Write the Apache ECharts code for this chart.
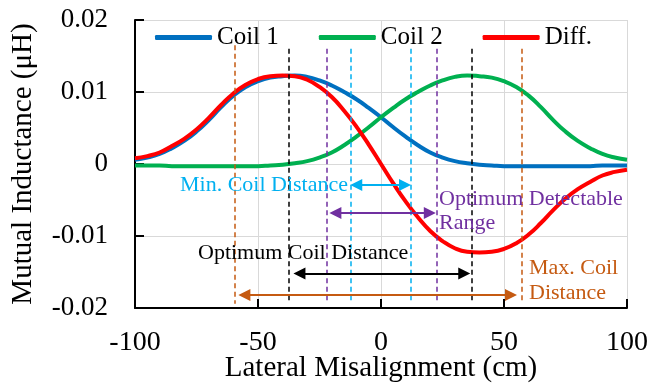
<!DOCTYPE html>
<html><head><meta charset="utf-8">
<script src="https://cdn.jsdelivr.net/npm/echarts/dist/echarts.min.js"></script>
<style>html,body{margin:0;padding:0;background:#fff}#c{width:650px;height:383px}</style>
</head><body><div id="c"></div>
<script>
// ---- data ----
const xs = [-100,-95,-90,-85,-80,-75,-70,-65,-60,-55,-50,-45,-40,-35,-30,-25,-20,-15,-10,-5,0,5,10,15,20,25,30,35,40,45,50,55,60,65,70,75,80,85,90,95,100];
const coil1 = [0.0006,0.0009,0.0014,0.0022,0.0032,0.0045,0.0061,0.0079,0.0095,0.0107,0.0115,0.0120,0.0122,0.0123,0.0121,0.0116,0.0109,0.0100,0.0090,0.0078,0.0065,0.0051,0.0038,0.0026,0.0016,0.0009,0.0004,0.0001,-0.0001,-0.0002,-0.0003,-0.0003,-0.0003,-0.0003,-0.0003,-0.0003,-0.0003,-0.0003,-0.0002,-0.0002,-0.0002];
const coil2 = [-0.0002,-0.0002,-0.0002,-0.0003,-0.0003,-0.0003,-0.0003,-0.0003,-0.0003,-0.0003,-0.0003,-0.0002,-0.0001,0.0001,0.0004,0.0009,0.0016,0.0026,0.0038,0.0051,0.0065,0.0078,0.0090,0.0100,0.0109,0.0116,0.0121,0.0123,0.0122,0.0120,0.0115,0.0107,0.0095,0.0079,0.0061,0.0045,0.0032,0.0022,0.0014,0.0009,0.0006];
const diff = [0.0008,0.0011,0.0016,0.0025,0.0035,0.0048,0.0064,0.0082,0.0098,0.0110,0.0118,0.0122,0.0123,0.0122,0.0117,0.0107,0.0093,0.0074,0.0052,0.0027,0,-0.0027,-0.0052,-0.0074,-0.0093,-0.0107,-0.0117,-0.0122,-0.0123,-0.0122,-0.0118,-0.0110,-0.0098,-0.0082,-0.0064,-0.0048,-0.0035,-0.0025,-0.0016,-0.0011,-0.0008];
const seriesNames = ['Coil 1','Coil 2','Diff.'];
const xTicks = [-100, 100, 50];   // min, max, interval
const yTicks = [-0.02, 0.02, 0.01];

// annotation guides: x positions of dashed lines [left, right]
const minDistX = [-12.5, 12.2];
const detectX = [-22.0, 22.8];
const optDistX = [-37.6, 36.7];
const maxDistX = [-59.6, 57.3];
// arrows: [tipLeft, tipRight, y]
const minDistArrow = [-12.5, 12.2, -0.0029];
const detectArrow = [-21.0, 22.3, -0.0068];
const optDistArrow = [-35.6, 36.3, -0.0152];
const maxDistArrow = [-58.0, 55.3, -0.0182];
const guideTop = 0.0160, guideTopOrangeL = 0.0165, guideBottom = -0.0194;

const FONT = '"Liberation Serif","Times New Roman",serif';
const C_CYAN = '#00B0F0', C_PURPLE = '#7030A0', C_BLACK = '#000000', C_ORANGE = '#C55A11';

function guide(x, top, color) {
  return [{coord:[x, top], lineStyle:{color:color, type:[5,3.5], width:1.5}}, {coord:[x, guideBottom]}];
}
const HEAD = 2.45; // half arrow head length in x units
function arrow(a, color) {
  return [{coord:[a[0] + HEAD, a[2]], lineStyle:{color:color, type:'solid', width:2}, itemStyle:{color:color}},
          {coord:[a[1] - HEAD, a[2]]}];
}

const chart = echarts.init(document.getElementById('c'), null, {renderer:'canvas'});
const mk = (arr) => xs.map((x,i) => [x, arr[i]]);

chart.setOption({
  animation: false,
  backgroundColor: '#fff',
  grid: {left:135, right:23, top:20, bottom:75, containLabel:false, outerBoundsMode:'none'},
  legend: {
    data: seriesNames, left:155, top:25, padding:0, icon:'roundRect', itemWidth:57, itemHeight:5, itemGap:40,
    textStyle:{fontSize:25, fontFamily:FONT, color:'#000'}
  },
  xAxis: {
    type:'value', min:xTicks[0], max:xTicks[1], interval:xTicks[2],
    name:'Lateral Misalignment (cm)', nameLocation:'middle', nameGap:46, nameMoveOverlap:false,
    nameTextStyle:{fontSize:29, fontFamily:FONT, color:'#000'},
    axisLine:{onZero:false, lineStyle:{color:'#000', width:2}},
    axisTick:{inside:true, length:9, lineStyle:{color:'#000', width:2}},
    splitLine:{show:true, lineStyle:{color:'#d9d9d9', width:1}},
    axisLabel:{fontSize:28, fontFamily:FONT, color:'#000', margin:21}
  },
  yAxis: {
    type:'value', min:yTicks[0], max:yTicks[1], interval:yTicks[2],
    name:'Mutual Inductance (μH)', nameLocation:'middle', nameGap:97, nameMoveOverlap:false,
    nameTextStyle:{fontSize:29, fontFamily:FONT, color:'#000'},
    axisLine:{onZero:false, lineStyle:{color:'#000', width:2}},
    axisTick:{inside:true, length:9, lineStyle:{color:'#000', width:2}},
    splitLine:{show:true, lineStyle:{color:'#d9d9d9', width:1}},
    axisLabel:{fontSize:27, fontFamily:FONT, color:'#000', margin:27}
  },
  series: [
    {
      type:'line', name:'_guides', data:[], silent:true, z:1,
      markLine:{silent:true, symbol:['none','none'], label:{show:false}, animation:false,
        data:[
          guide(maxDistX[0], guideTopOrangeL, C_ORANGE), guide(maxDistX[1], guideTop, C_ORANGE),
          guide(optDistX[0], guideTop, C_BLACK), guide(optDistX[1], guideTop, C_BLACK),
          guide(detectX[0], guideTop, C_PURPLE), guide(detectX[1], guideTop, C_PURPLE),
          guide(minDistX[0], guideTop, C_CYAN), guide(minDistX[1], guideTop, C_CYAN)
        ]}
    },
    {
      type:'line', name:'_arrows', data:[], silent:true, z:1,
      markLine:{silent:true, symbol:['triangle','triangle'], symbolSize:[12,12], label:{show:false}, animation:false,
        data:[
          arrow(minDistArrow, C_CYAN), arrow(detectArrow, C_PURPLE),
          arrow(optDistArrow, C_BLACK), arrow(maxDistArrow, C_ORANGE)
        ]}
    },
    {type:'line', name:seriesNames[0], data:mk(coil1), smooth:true, showSymbol:false, symbol:'none', z:3,
     lineStyle:{color:'#0070C0', width:4}, itemStyle:{color:'#0070C0'}},
    {type:'line', name:seriesNames[1], data:mk(coil2), smooth:true, showSymbol:false, symbol:'none', z:3,
     lineStyle:{color:'#00B050', width:4}, itemStyle:{color:'#00B050'}},
    {type:'line', name:seriesNames[2], data:mk(diff), smooth:true, showSymbol:false, symbol:'none', z:4,
     lineStyle:{color:'#FF0000', width:4}, itemStyle:{color:'#FF0000'}}
  ],
  graphic: [
    {type:'text', x:348, y:185, silent:true, z:10, style:{text:'Min. Coil Distance', font:'22px '+FONT, fill:C_CYAN, align:'right', verticalAlign:'middle'}},
    {type:'text', x:439, y:199, silent:true, z:10, style:{text:'Optimum Detectable', font:'22px '+FONT, fill:C_PURPLE, align:'left', verticalAlign:'middle'}},
    {type:'text', x:439, y:223, silent:true, z:10, style:{text:'Range', font:'22px '+FONT, fill:C_PURPLE, align:'left', verticalAlign:'middle'}},
    {type:'text', x:198, y:253, silent:true, z:10, style:{text:'Optimum Coil Distance', font:'22px '+FONT, fill:C_BLACK, align:'left', verticalAlign:'middle'}},
    {type:'text', x:529, y:268, silent:true, z:10, style:{text:'Max. Coil', font:'22px '+FONT, fill:C_ORANGE, align:'left', verticalAlign:'middle'}},
    {type:'text', x:529, y:293, silent:true, z:10, style:{text:'Distance', font:'22px '+FONT, fill:C_ORANGE, align:'left', verticalAlign:'middle'}}
  ]
});
</script></body></html>
